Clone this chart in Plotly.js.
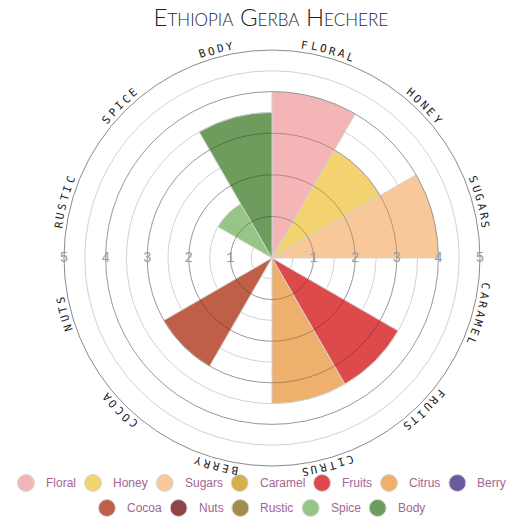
<!DOCTYPE html>
<html><head><meta charset="utf-8">
<script src="https://cdn.plot.ly/plotly-3.0.1.min.js"></script>
<style>html,body{margin:0;padding:0;background:#fff}#chart{width:531px;height:531px}</style>
</head><body><div id="chart"></div>
<script>
// ---- data ----
const categories = ['Floral','Honey','Sugars','Caramel','Fruits','Citrus','Berry','Cocoa','Nuts','Rustic','Spice','Body'];
const scores = [4, 3, 4, 0, 3.5, 3.5, 0, 3, 0, 0, 1.5, 3.5];
const colors = ['#f4b5b7','#f3d370','#f8c898','#d4b04b','#de4a4b','#eeb06c','#6b5a9e','#c05f48','#8e4545','#a38c4a','#97c585','#6d9c5d'];
const radialTicks = [1, 2, 3, 4, 5];
const halfTicks = [0.5, 1, 1.5, 2, 2.5, 3, 3.5, 4, 4.5, 5];
const titleText = 'Ethiopia Gerba Hechere';
const legendRows = [7, 5];

// ---- geometry / style ----
const W = 531, H = 531;
const CX = 272, CY = 258, RPX = 208, RMAX = 5;
const domX = [(CX - RPX) / W, (CX + RPX) / W];
const domY = [1 - (CY + RPX) / H, 1 - (CY - RPX) / H];
const legendColor = '#a36591';
const legendFont = {family: 'Liberation Sans, Arial, sans-serif', size: 12, color: legendColor};

// text width measurement for the hand-laid legend
const ctx = document.createElement('canvas').getContext('2d');
ctx.font = '12px "Liberation Sans"';
const tw = s => ctx.measureText(s).width;

const annotations = [];

// curved, tangential category labels (letter by letter)
const labelR = RPX + 7.5;
const pitch = 9.4;
const step = 360 / categories.length;
const rotationDeg = 90 - step / 2; // first category centred half a sector clockwise from top
categories.forEach((cat, i) => {
  const txt = cat.toUpperCase();
  const n = txt.length;
  const thetaC = step / 2 + i * step; // clockwise from top
  for (let j = 0; j < n; j++) {
    const th = thetaC + (j - (n - 1) / 2) * (pitch / labelR) * 180 / Math.PI;
    const rad = th * Math.PI / 180;
    annotations.push({
      x: CX + labelR * Math.sin(rad), y: CY - labelR * Math.cos(rad),
      xref: 'x', yref: 'y', text: txt[j], showarrow: false,
      xanchor: 'center', yanchor: 'middle', textangle: ((th + 180) % 360) - 180,
      font: {family: 'DejaVu Sans Mono, monospace', size: 11, color: '#222'}
    });
  }
});

// hand-laid legend (circle markers + text), rows centred
const legX = [], legY = [];
let k = 0;
legendRows.forEach((count, ri) => {
  const names = categories.slice(k, k + count);
  const widths = names.map(nm => tw(nm) + 37);
  const total = widths.reduce((a, b) => a + b, 0);
  let x = W / 2 - total / 2 + 9;
  const y = 483 + ri * 25;
  names.forEach((nm, j) => {
    legX.push(x); legY.push(y);
    annotations.push({x: x + 18, y: y, xref: 'x', yref: 'y', text: nm, showarrow: false,
      xanchor: 'left', yanchor: 'middle', font: legendFont});
    x += widths[j];
  });
  k += count;
});

const traces = [
  {
    type: 'barpolar', subplot: 'polar',
    r: scores, theta: categories,
    marker: {color: colors, line: {color: '#d2d2d2', width: 1}},
    showlegend: false, hoverinfo: 'theta+r'
  },
  {
    type: 'scatterpolar', subplot: 'polar2', mode: 'text',
    r: radialTicks.concat(radialTicks),
    theta: radialTicks.map(() => 0).concat(radialTicks.map(() => 180)),
    text: radialTicks.map(String).concat(radialTicks.map(String)),
    textposition: 'middle center',
    textfont: {family: 'Liberation Mono, monospace', size: 14, color: '#9a9a9a'},
    showlegend: false, hoverinfo: 'skip'
  },
  {
    type: 'scatter', xaxis: 'x', yaxis: 'y', mode: 'markers',
    x: legX, y: legY,
    marker: {size: 17, color: colors, line: {color: '#d9d9d9', width: 1}},
    showlegend: false, hoverinfo: 'skip', cliponaxis: false
  }
];

const layout = {
  width: W, height: H,
  margin: {l: 0, r: 0, t: 0, b: 0},
  paper_bgcolor: '#fff', plot_bgcolor: 'rgba(0,0,0,0)',
  showlegend: false,
  title: {
    text: titleText, x: 0.51, xanchor: 'center', y: 1 - 18 / H, yanchor: 'middle', yref: 'container',
    font: {family: 'Lato, Open Sans, sans-serif', size: 24, color: '#1e1e1e', weight: 300, variant: 'small-caps'}
  },
  xaxis: {range: [0, W], visible: false, fixedrange: true, domain: [0, 1]},
  yaxis: {range: [H, 0], visible: false, fixedrange: true, domain: [0, 1]},
  polar: {
    domain: {x: domX, y: domY},
    bgcolor: '#fff',
    bargap: 0,
    radialaxis: {range: [0, RMAX], tickvals: halfTicks, showticklabels: false, ticks: '',
      showline: false, showgrid: true, gridcolor: 'rgba(0,0,0,0.18)', gridwidth: 1, layer: 'above traces'},
    angularaxis: {type: 'category', categoryarray: categories, rotation: rotationDeg, direction: 'clockwise',
      showgrid: false, showticklabels: false, ticks: '', showline: true, linecolor: '#8a8a8a', linewidth: 1}
  },
  polar2: {
    domain: {x: domX, y: domY},
    bgcolor: 'rgba(0,0,0,0)',
    radialaxis: {range: [0, RMAX], tickvals: radialTicks, showticklabels: false, ticks: '',
      showline: false, showgrid: true, gridcolor: 'rgba(0,0,0,0.26)', gridwidth: 1},
    angularaxis: {type: 'linear', rotation: 0, direction: 'counterclockwise',
      showgrid: false, showticklabels: false, ticks: '', showline: false}
  },
  annotations: annotations
};

Plotly.newPlot('chart', traces, layout, {displayModeBar: false, staticPlot: true});
</script>
</body></html>
